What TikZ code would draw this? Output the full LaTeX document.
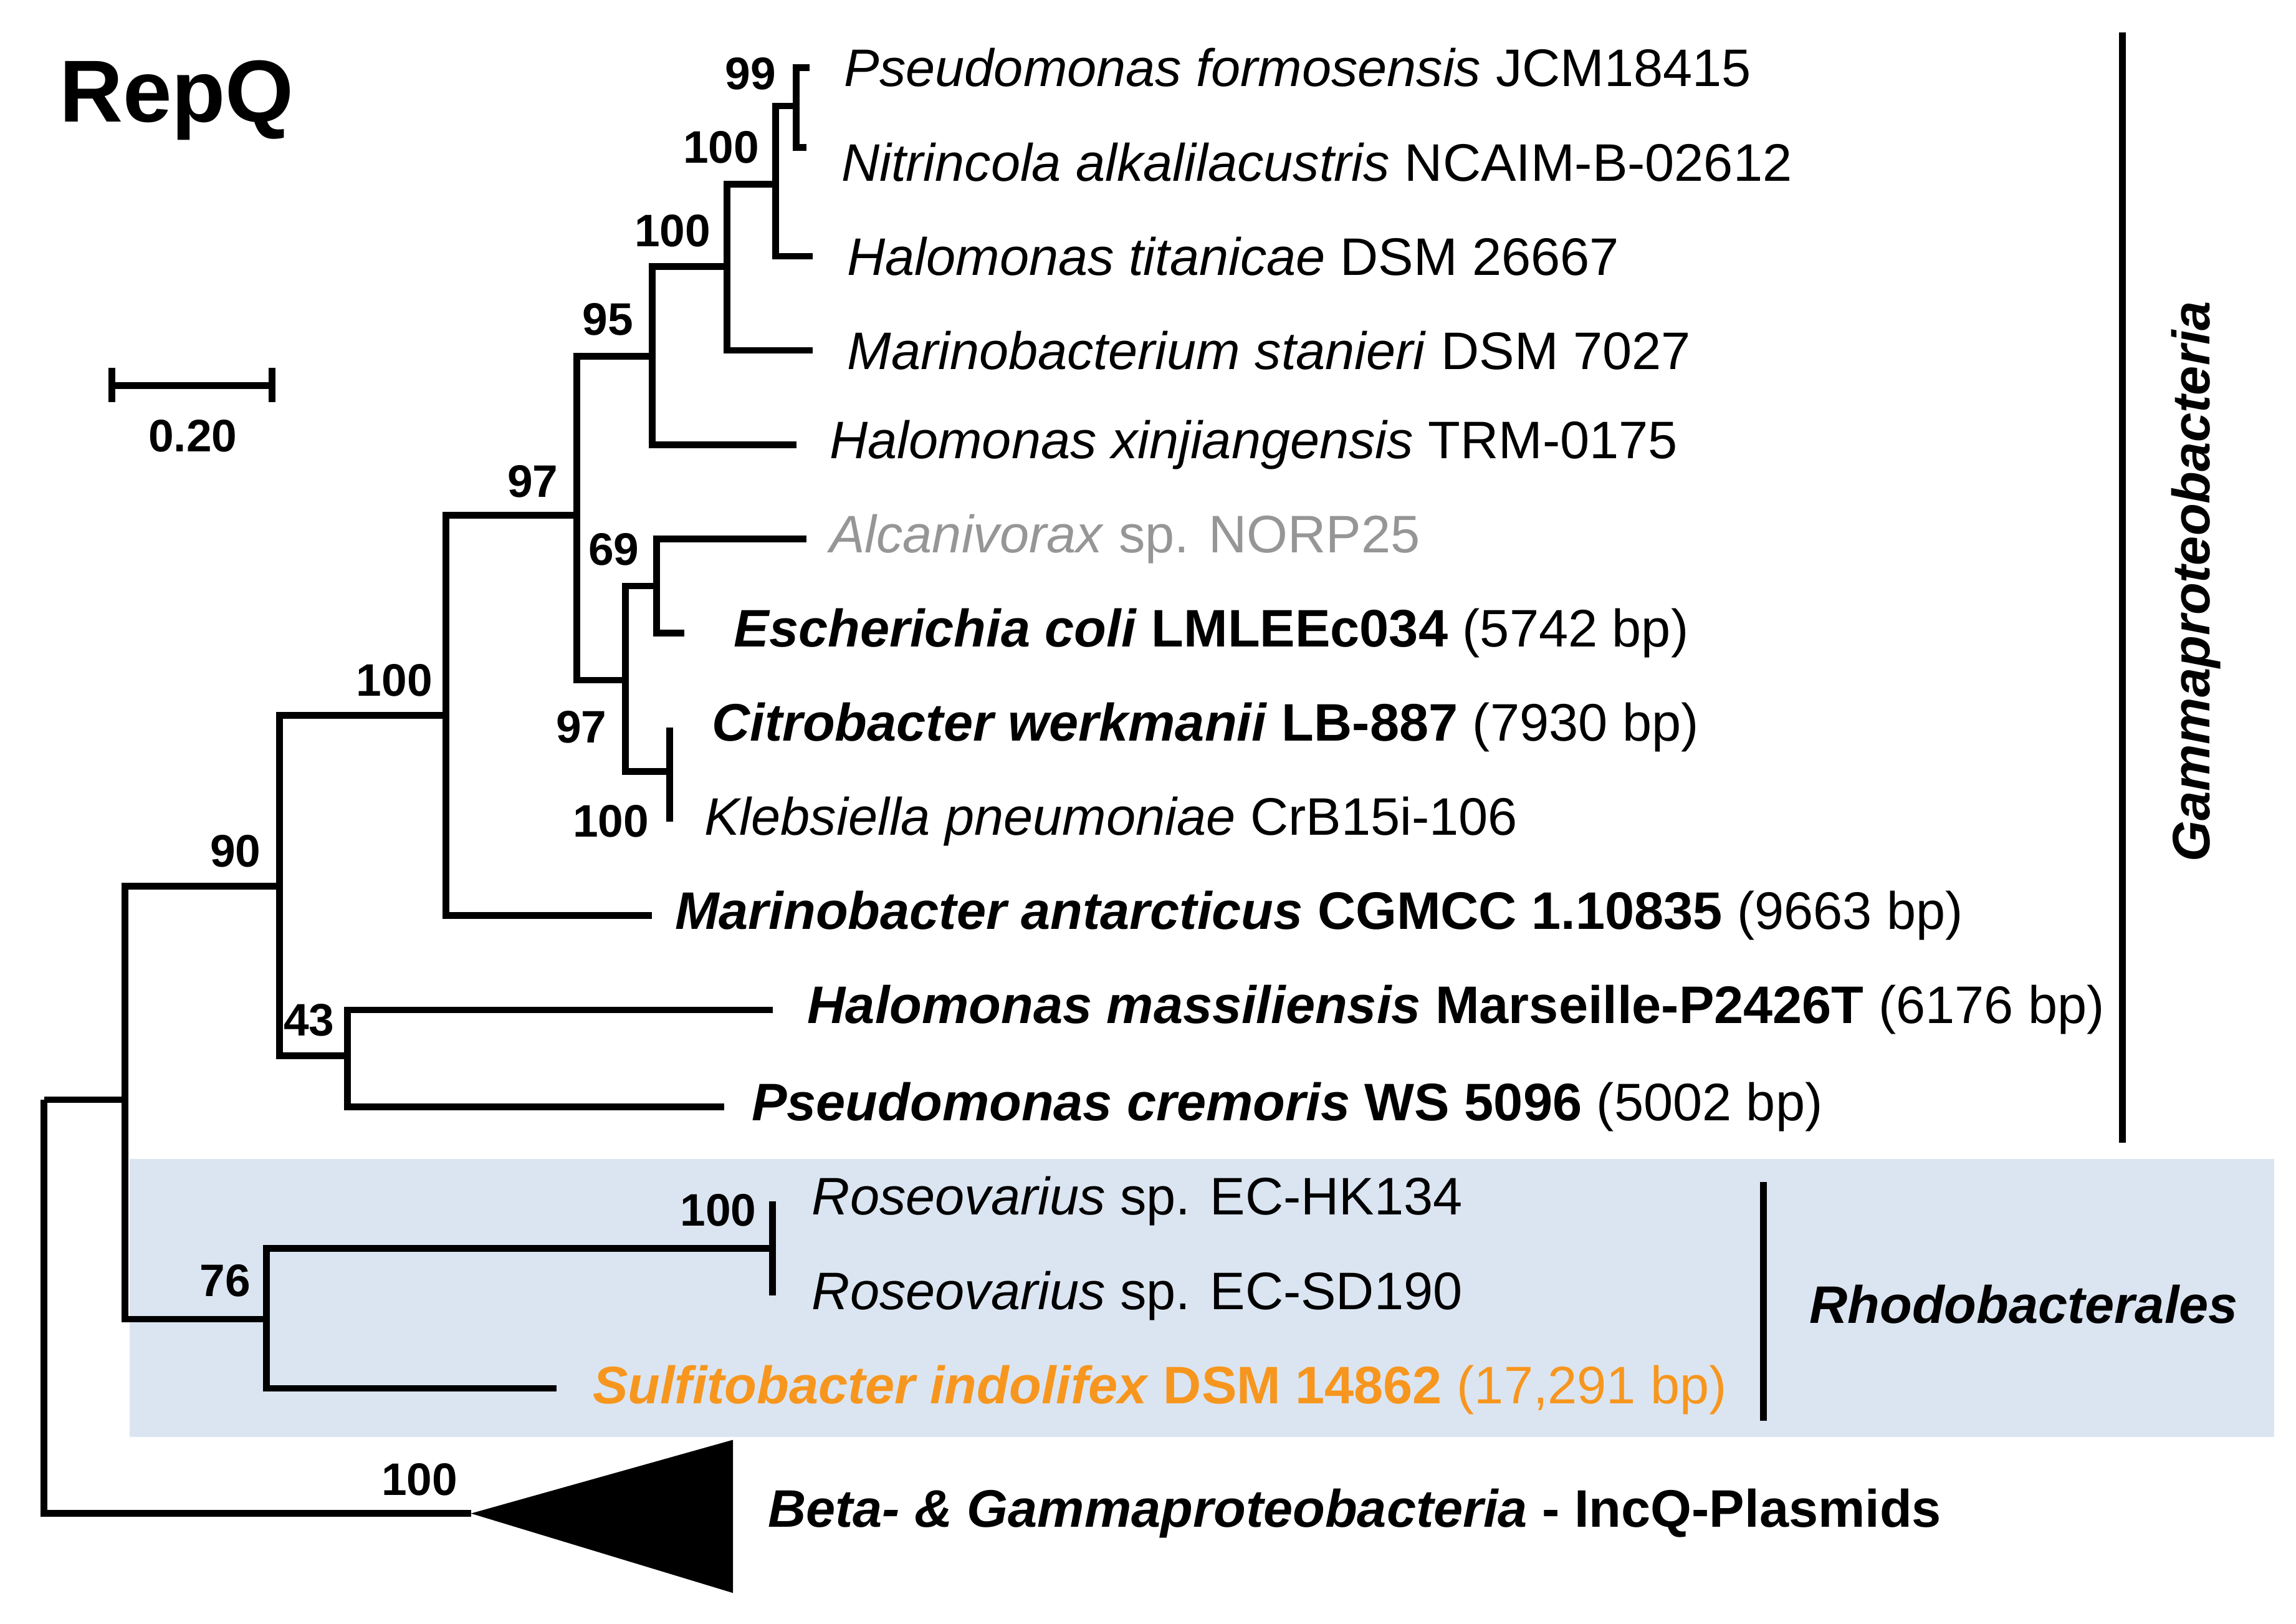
\documentclass[tikz,border=0pt]{standalone}
\usepackage{fontspec}
\setmainfont{Liberation Sans}
\begin{document}
\begin{tikzpicture}[x=0.01cm,y=-0.01cm,
 br/.style={line width=1.3pt},
 tip/.style={anchor=west,inner sep=0pt,font=\fontsize{10.2}{12}\selectfont},
 bs/.style={font=\bfseries\fontsize{8.8}{10}\selectfont,inner sep=0pt}]
\useasboundingbox (0,0) rectangle (1560,1103);
\fill[blue!15!cyan!5!white,fill={rgb,255:red,219;green,229;blue,241}] (88,787) rectangle (1545,976);
% internal coordinates
\coordinate (r) at (30,747);
\coordinate (n85) at (85,747);
\coordinate (n190) at (190,602);
\coordinate (n303) at (303,486);
\coordinate (n392) at (392,350);
\coordinate (n443) at (443,242);
\coordinate (n494) at (494,181);
\coordinate (n527) at (527,125);
\coordinate (n541) at (541,72);
\coordinate (n425) at (425,462);
\coordinate (n446) at (446,398);
\coordinate (n455) at (455,524);
\coordinate (n236) at (236,717);
\coordinate (n181) at (181,896);
\coordinate (n525) at (525,848);
\coordinate (tri) at (320,1028);
% tips
\coordinate (t1) at (550,46);
\coordinate (t2) at (548,100);
\coordinate (t3) at (552,174);
\coordinate (t4) at (552,238);
\coordinate (t5) at (541,302);
\coordinate (t6) at (548,366);
\coordinate (t7) at (465,430);
\coordinate (t8) at (455,494);
\coordinate (t9) at (455,558);
\coordinate (t10) at (443,622);
\coordinate (t11) at (525,686);
\coordinate (t12) at (492,752);
\coordinate (t13) at (525,816);
\coordinate (t14) at (525,880);
\coordinate (t15) at (378,943);
\draw[br] (r) -- (n85) (r) |- (tri);
\draw[br] (n85) |- (n190) (n85) |- (n181);
\draw[br] (n190) |- (n303) (n190) |- (n236);
\draw[br] (n303) |- (n392) (n303) |- (t10);
\draw[br] (n392) |- (n443) (n392) |- (n425);
\draw[br] (n443) |- (n494) (n443) |- (t5);
\draw[br] (n494) |- (n527) (n494) |- (t4);
\draw[br] (n527) |- (n541) (n527) |- (t3);
\draw[br] (n541) |- (t1) (n541) |- (t2);
\draw[br] (n425) |- (n446) (n425) |- (n455);
\draw[br] (n446) |- (t6) (n446) |- (t7);
\draw[br] (n455) |- (t8) (n455) |- (t9);
\draw[br] (n236) |- (t11) (n236) |- (t12);
\draw[br] (n181) |- (n525) (n181) |- (t15);
\draw[br] (n525) |- (t13) (n525) |- (t14);
\fill (tri) -- (498,978) -- (498,1082) -- cycle;
% bootstrap labels
\node[bs] at (510,50) {99};
\node[bs] at (490,100) {100};
\node[bs] at (457,157) {100};
\node[bs] at (413,217) {95};
\node[bs] at (362,327) {97};
\node[bs] at (417,373) {69};
\node[bs] at (395,494) {97};
\node[bs] at (415,558) {100};
\node[bs] at (268,462) {100};
\node[bs] at (160,578) {90};
\node[bs] at (210,693) {43};
\node[bs] at (153,870) {76};
\node[bs] at (488,822) {100};
\node[bs] at (285,1005) {100};
% tip labels
\node[tip] (l1) at (573,46) {\textit{Pseudomonas formosensis} JCM18415};
\node[tip] (l2) at (571,110) {\textit{Nitrincola alkalilacustris} NCAIM-B-02612};
\node[tip] (l3) at (575,174) {\textit{Halomonas titanicae} DSM 26667};
\node[tip] (l4) at (575,238) {\textit{Marinobacterium stanieri} DSM 7027};
\node[tip] (l5) at (563,302) {\textit{Halomonas xinjiangensis} TRM-0175};
\node[tip,text={rgb,255:red,150;green,150;blue,150}] (l6) at (563,366) {\textit{Alcanivorax} sp. NORP25};
\node[tip] (l7) at (498,430) {\textbf{\textit{Escherichia coli} LMLEEc034} (5742 bp)};
\node[tip] (l8) at (483,494) {\textbf{\textit{Citrobacter werkmanii} LB-887} (7930 bp)};
\node[tip] (l9) at (478,558) {\textit{Klebsiella pneumoniae} CrB15i-106};
\node[tip] (l10) at (458,622) {\textbf{\textit{Marinobacter antarcticus} CGMCC 1.10835} (9663 bp)};
\node[tip] (l11) at (548,686) {\textbf{\textit{Halomonas massiliensis} Marseille-P2426T} (6176 bp)};
\node[tip] (l12) at (510,752) {\textbf{\textit{Pseudomonas cremoris} WS 5096} (5002 bp)};
\node[tip] (l13) at (551,816) {\textit{Roseovarius} sp. EC-HK134};
\node[tip] (l14) at (551,880) {\textit{Roseovarius} sp. EC-SD190};
\node[tip,text={rgb,255:red,247;green,150;blue,30}] (l15) at (402,944) {\textbf{\textit{Sulfitobacter indolifex} DSM 14862} (17,291 bp)};
\node[tip] (l16) at (521,1028) {\textbf{\textit{Beta- \& Gammaproteobacteria} - IncQ-Plasmids}};
% clade bars
\draw[br] (1442,22) -- (1442,776);
\node[tip,anchor=center,rotate=90,font=\bfseries\itshape\fontsize{10.2}{12}\selectfont] (g) at (1492,395) {Gammaproteobacteria};
\draw[br] (1198,803) -- (1198,965);
\node[tip,anchor=center,font=\bfseries\itshape\fontsize{10.2}{12}\selectfont] (rh) at (1375,886) {Rhodobacterales};
% scale
\draw[br] (76,262) -- (185,262) (76,250) -- (76,273) (185,250) -- (185,273);
\node[bs] (sc) at (131,296) {0.20};
\node[inner sep=0pt,font=\bfseries\fontsize{17}{20}\selectfont] (title) at (120,68) {RepQ};
\end{tikzpicture}
\end{document}
